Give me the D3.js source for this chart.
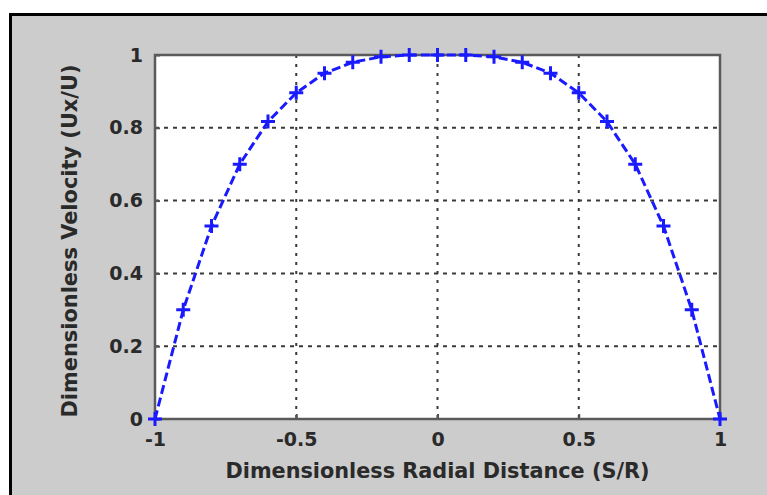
<!DOCTYPE html>
<html>
<head>
<meta charset="utf-8">
<script src="https://cdn.jsdelivr.net/npm/d3@7"></script>
<style>
  body { margin: 0; background: #fff; }
  text { font-family: "DejaVu Sans", sans-serif; font-weight: bold; fill: #2a2a2a; }
</style>
</head>
<body>
<svg id="chart" width="767" height="495"></svg>
<script>
var width = 767,
    height = 495;

// radial positions and velocity profile
var radial = [-1, -0.9, -0.8, -0.7, -0.6, -0.5, -0.4, -0.3, -0.2, -0.1, 0,
              0.1, 0.2, 0.3, 0.4, 0.5, 0.6, 0.7, 0.8, 0.9, 1];
var velocity = [0, 0.30, 0.53, 0.70, 0.817, 0.896, 0.95, 0.98, 0.995, 1, 1,
                1, 0.995, 0.98, 0.95, 0.896, 0.817, 0.70, 0.53, 0.30, 0];

var x_ticks = [-1, -0.5, 0, 0.5, 1];
var x_tick_labels = ["-1", "-0.5", "0", "0.5", "1"];
var y_ticks = [0, 0.2, 0.4, 0.6, 0.8, 1];
var y_tick_labels = ["0", "0.2", "0.4", "0.6", "0.8", "1"];

var x_title = "Dimensionless Radial Distance (S/R)";
var y_title = "Dimensionless Velocity (Ux/U)";

var plot = { left: 155, right: 720, top: 55, bottom: 419 };

var svg = d3.select("#chart");

// figure background with the black frame (right/bottom cut off)
svg.append("rect")
    .attr("x", 10.5).attr("y", 14.5)
    .attr("width", 900).attr("height", 700)
    .attr("fill", "#cccccc")
    .attr("stroke", "#000").attr("stroke-width", 3);

var x = d3.scaleLinear().domain([-1, 1]).range([plot.left, plot.right]);
var y = d3.scaleLinear().domain([0, 1]).range([plot.bottom, plot.top]);

// axes area
svg.append("rect")
    .attr("x", plot.left).attr("y", plot.top)
    .attr("width", plot.right - plot.left)
    .attr("height", plot.bottom - plot.top)
    .attr("fill", "#fff");

// grid
var grid = svg.append("g").attr("class", "grid")
    .attr("stroke", "#3a3a3a").attr("stroke-width", 2);

grid.selectAll("line.v")
    .data(x_ticks.slice(1, -1))
    .join("line")
    .attr("class", "v")
    .attr("x1", function (d) { return x(d); })
    .attr("x2", function (d) { return x(d); })
    .attr("y1", plot.top).attr("y2", plot.bottom)
    .attr("stroke-dasharray", "3,6");

grid.selectAll("line.h")
    .data(y_ticks.slice(1, -1))
    .join("line")
    .attr("class", "h")
    .attr("x1", plot.left).attr("x2", plot.right)
    .attr("y1", function (d) { return y(d); })
    .attr("y2", function (d) { return y(d); })
    .attr("stroke-dasharray", "4,5");

// axes with inward ticks
var xAxis = d3.axisBottom(x)
    .tickValues(x_ticks)
    .tickSize(-5)
    .tickPadding(14)
    .tickFormat(function (d, i) { return x_tick_labels[i]; });

var yAxis = d3.axisLeft(y)
    .tickValues(y_ticks)
    .tickSize(-5)
    .tickPadding(12)
    .tickFormat(function (d, i) { return y_tick_labels[i]; });

var gx = svg.append("g")
    .attr("transform", "translate(0," + plot.bottom + ")")
    .call(xAxis);
var gy = svg.append("g")
    .attr("transform", "translate(" + plot.left + ",0)")
    .call(yAxis);

[gx, gy].forEach(function (g) {
    g.select(".domain").remove();
    g.selectAll(".tick line").attr("stroke", "#555").attr("stroke-width", 2);
    g.selectAll(".tick text")
        .attr("font-size", 19)
        .attr("fill", "#2a2a2a")
        .attr("font-family", "DejaVu Sans")
        .attr("font-weight", "bold");
});
gx.selectAll(".tick text").attr("dy", "0.71em");

// box
svg.append("rect")
    .attr("x", plot.left).attr("y", plot.top)
    .attr("width", plot.right - plot.left)
    .attr("height", plot.bottom - plot.top)
    .attr("fill", "none")
    .attr("stroke", "#5a5a5a").attr("stroke-width", 2.5);

// profile line
var line = d3.line()
    .x(function (d, i) { return x(radial[i]); })
    .y(function (d) { return y(d); });

svg.append("path")
    .datum(velocity)
    .attr("d", line)
    .attr("fill", "none")
    .attr("stroke", "#1a1aff")
    .attr("stroke-width", 3)
    .attr("stroke-dasharray", "9,4");

// plus markers
var m = 7;
svg.append("g")
    .selectAll("path")
    .data(velocity)
    .join("path")
    .attr("d", function (d, i) {
        var cx = x(radial[i]), cy = y(d);
        return "M" + (cx - m) + "," + cy + "H" + (cx + m) +
               "M" + cx + "," + (cy - m) + "V" + (cy + m);
    })
    .attr("stroke", "#1a1aff")
    .attr("stroke-width", 3);

// titles
svg.append("text")
    .attr("x", (plot.left + plot.right) / 2)
    .attr("y", 478)
    .attr("text-anchor", "middle")
    .attr("font-size", 20.5)
    .attr("textLength", 424)
    .attr("lengthAdjust", "spacingAndGlyphs")
    .text(x_title);

svg.append("text")
    .attr("transform", "translate(77," + ((plot.top + plot.bottom) / 2 + 4) + ") rotate(-90)")
    .attr("text-anchor", "middle")
    .attr("font-size", 20.5)
    .attr("textLength", 353)
    .attr("lengthAdjust", "spacingAndGlyphs")
    .text(y_title);
</script>
</body>
</html>
